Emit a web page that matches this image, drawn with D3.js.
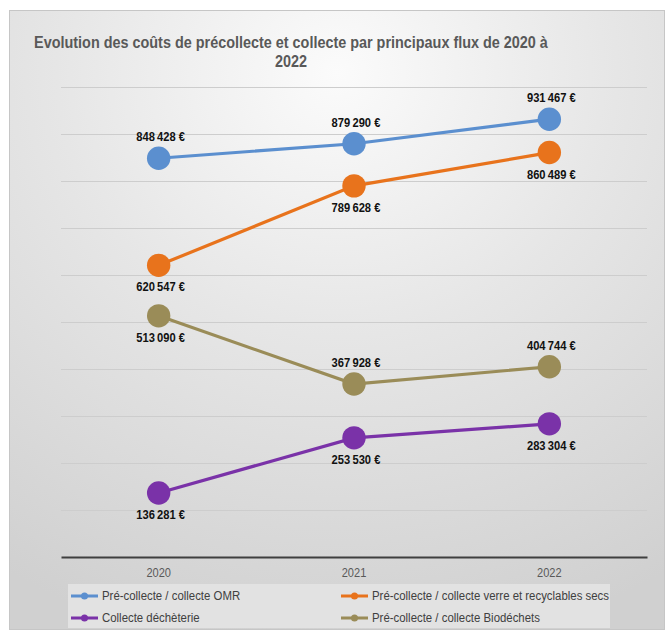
<!DOCTYPE html>
<html>
<head>
<meta charset="utf-8">
<script src="https://cdn.jsdelivr.net/npm/d3@7"></script>
<style>
  body { margin: 0; background: #fff; }
  svg { display: block; font-family: "Liberation Sans", Arial, sans-serif; }
</style>
</head>
<body>
<svg width="665" height="630"></svg>
<script>
const years = ["2020", "2021", "2022"];
const seriesNames = [
  "Pré-collecte / collecte OMR",
  "Pré-collecte / collecte verre et recyclables secs",
  "Collecte déchèterie",
  "Pré-collecte / collecte Biodéchets",
];
const omr = [848428, 879290, 931467];
const verre = [620547, 789628, 860489];
const decheterie = [136281, 253530, 283304];
const biodechets = [513090, 367928, 404744];
const seriesColors = ["#5b8fcf", "#e8731c", "#7a32a8", "#9a8c58"];
// where each data label goes
const labelSide = [
  ["above", "above", "above"],
  ["below", "below", "below"],
  ["below", "below", "below"],
  ["below", "above", "above"],
];
const yTicks = [0, 100000, 200000, 300000, 400000, 500000, 600000, 700000, 800000, 900000, 1000000];
const titleLines = ["Evolution des coûts de précollecte et collecte par principaux flux de 2020 à", "2022"];

const series = [omr, verre, decheterie, biodechets].map((values, i) => ({
  name: seriesNames[i],
  color: seriesColors[i],
  points: values.map((v, j) => ({ year: years[j], value: v, side: labelSide[i][j] })),
}));

const svg = d3.select("svg");
const width = +svg.attr("width");
const height = +svg.attr("height");

const fr = d3.formatLocale({ decimal: ",", thousands: "\u202f", grouping: [3], currency: ["", " €"] });
const fmt = (v) => fr.format(",")(v) + " €";

// squeeze the text a bit, the original font is a narrow one
const condense = (sel, k) =>
  sel.each(function () {
    const w = this.getComputedTextLength();
    d3.select(this).attr("textLength", w * k).attr("lengthAdjust", "spacingAndGlyphs");
  });

// chart background
const defs = svg.append("defs");
const grad = defs.append("radialGradient")
  .attr("id", "bg")
  .attr("cx", "50%").attr("cy", "10%").attr("r", "95%");
grad.append("stop").attr("offset", "0%").attr("stop-color", "#fbfbfb");
grad.append("stop").attr("offset", "45%").attr("stop-color", "#e6e6e6");
grad.append("stop").attr("offset", "100%").attr("stop-color", "#d0d0d0");

svg.append("rect")
  .attr("x", 9.5).attr("y", 10.5)
  .attr("width", width - 10).attr("height", height - 11)
  .attr("fill", "url(#bg)")
  .attr("stroke", "#c6c6c6");

const margin = { top: 87, right: 18, bottom: 73, left: 61 };
const innerWidth = width - margin.left - margin.right;
const innerHeight = height - margin.top - margin.bottom;

const xScale = d3.scaleBand().domain(years).range([0, innerWidth]);
const yScale = d3.scaleLinear().domain([0, 1000000]).range([innerHeight, 0]);
const xPos = (d) => xScale(d) + xScale.bandwidth() / 2;

const g = svg.append("g").attr("transform", `translate(${margin.left},${margin.top})`);

// gridlines
const yAxis = d3.axisLeft(yScale).tickValues(yTicks).tickSize(-innerWidth).tickFormat("");
const yAxisG = g.append("g").call(yAxis);
yAxisG.select(".domain").remove();
yAxisG.selectAll("line").attr("stroke", "#cdcdcd").attr("stroke-width", 1);
yAxisG.selectAll(".tick").filter((d) => d === 0).remove();

// x axis
const xAxis = d3.axisBottom(xScale).tickSize(0).tickPadding(11);
const xAxisG = g.append("g").attr("transform", `translate(0,${innerHeight})`).call(xAxis);
xAxisG.select(".domain").attr("stroke", "#3f3f3f").attr("stroke-width", 2.2);
xAxisG.selectAll("text")
  .attr("font-family", null)
  .attr("font-size", 12)
  .attr("fill", "#595959")
  .call(condense, 0.92);

// lines
const line = d3.line().x((d) => xPos(d.year)).y((d) => yScale(d.value));

const sG = g.selectAll(".series").data(series).enter().append("g").attr("class", "series");
sG.append("path")
  .attr("d", (d) => line(d.points))
  .attr("fill", "none")
  .attr("stroke", (d) => d.color)
  .attr("stroke-width", 3.2);

sG.selectAll("circle")
  .data((d) => d.points.map((p) => ({ ...p, color: d.color })))
  .enter()
  .append("circle")
  .attr("cx", (d) => xPos(d.year))
  .attr("cy", (d) => yScale(d.value))
  .attr("r", 11.7)
  .attr("fill", (d) => d.color);

// data labels
sG.selectAll(".lbl")
  .data((d) => d.points)
  .enter()
  .append("text")
  .attr("class", "lbl")
  .attr("x", (d) => xPos(d.year) + 2)
  .attr("y", (d) => yScale(d.value) + (d.side === "above" ? -17 : 26))
  .attr("text-anchor", "middle")
  .attr("font-size", 12)
  .attr("font-weight", "bold")
  .attr("fill", "#111")
  .text((d) => fmt(d.value))
  .call(condense, 0.93);

// title
svg.selectAll(".title")
  .data(titleLines)
  .enter()
  .append("text")
  .attr("class", "title")
  .attr("x", 291)
  .attr("y", (d, i) => 48 + i * 19)
  .attr("text-anchor", "middle")
  .attr("font-size", 16)
  .attr("font-weight", "bold")
  .attr("fill", "#595959")
  .text((d) => d)
  .call(condense, 0.9);

// legend
const legend = svg.append("g").attr("transform", "translate(68,584)");
legend.append("rect").attr("width", 542).attr("height", 44).attr("fill", "#e2e2e2");
const legendPos = [[3, 12], [273, 12], [3, 34], [273, 34]];
const li = legend.selectAll(".li")
  .data(series.map((s, i) => ({ s, pos: legendPos[i] })))
  .enter()
  .append("g")
  .attr("transform", (d) => `translate(${d.pos[0]},${d.pos[1]})`);
li.append("line").attr("x1", 0).attr("x2", 27).attr("stroke", (d) => d.s.color).attr("stroke-width", 3);
li.append("circle").attr("cx", 13.5).attr("r", 3.5).attr("fill", (d) => d.s.color);
li.append("text")
  .attr("x", 31)
  .attr("dy", "0.35em")
  .attr("font-size", 12)
  .attr("fill", "#404040")
  .text((d) => d.s.name)
  .call(condense, 0.95);
</script>
</body>
</html>
